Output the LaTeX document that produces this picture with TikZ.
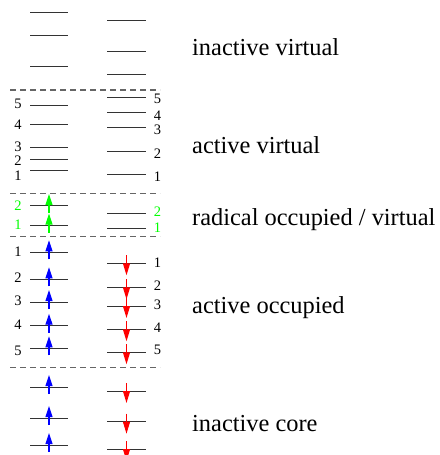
\documentclass[tikz,border=0pt]{standalone}
\usepackage{fontspec}
\setmainfont{Liberation Serif}
\usetikzlibrary{arrows.meta}
\tikzset{
  lvl/.style={black!80, line width=0.95pt},
  sep/.style={black!60, line width=1.3pt, dash pattern=on 6pt off 4pt},
  upar/.style={blue, line width=1.1pt, -{Triangle[length=11pt,width=7pt]}},
  dnar/.style={red, line width=1.1pt, -{Triangle[length=12pt,width=7pt]}},
  grar/.style={green, line width=1.1pt, -{Triangle[length=11pt,width=7pt]}},
  num/.style={font=\fontsize{14.5}{15}\selectfont, inner sep=0pt},
  lab/.style={font=\fontsize{24.4}{26}\selectfont, inner sep=0pt, anchor=base west}
}
\newcommand{\Lv}[1]{\draw[lvl] (30,#1) -- (68,#1);}
\newcommand{\Rv}[1]{\draw[lvl] (107,#1) -- (146,#1);}
\newcommand{\Ua}[2]{\draw[#2] (49,#1+7) -- (49,#1-12);}
\newcommand{\Da}[1]{\draw[dnar] (126.5,#1-8) -- (126.5,#1+12);}
\begin{document}
\begin{tikzpicture}[x=1pt,y=-1pt]
\useasboundingbox (0,0) rectangle (439,455);
\clip (0,0) rectangle (439,455);
% separators
\foreach \y/\n in {90/s1,193.5/s2,236.5/s3,367.5/s4}
  \draw[sep] (10,\y) coordinate (\n a) -- (160,\y) coordinate (\n b);
% inactive virtual
\Lv{12.7}\Lv{35.3}\Lv{66.7}
\Rv{20.3}\Rv{51}\Rv{74}
% active virtual
\Lv{105}\Lv{124.3}\Lv{147.3}\Lv{159}\Lv{170.7}
\Rv{97.3}\Rv{112.7}\Rv{127.7}\Rv{151.7}\Rv{174}
\node[num] (av5) at (18,103.5) {5};
\node[num] (av4) at (18,125) {4};
\node[num] (av3) at (18,147) {3};
\node[num] (av2) at (18,161) {2};
\node[num] (av1) at (18,176) {1};
\node[num] (bv5) at (157.5,99) {5};
\node[num] (bv4) at (157.5,115.5) {4};
\node[num] (bv3) at (157.5,130) {3};
\node[num] (bv2) at (157.5,154) {2};
\node[num] (bv1) at (157.5,176.5) {1};
% radical
\Lv{205.5}\Lv{225}
\Rv{213.3}\Rv{228.3}
\Ua{225.5}{grar}
\Ua{206}{grar}
\node[num, text=green] (ra2) at (18,205.7) {2};
\node[num, text=green] (ra1) at (18,224.5) {1};
\node[num, text=green] (rb2) at (157.5,212) {2};
\node[num, text=green] (rb1) at (157.5,227.3) {1};
% active occupied
\Lv{252.3}\Lv{279.3}\Lv{302}\Lv{325.7}\Lv{348.3}
\Rv{263.3}\Rv{287.3}\Rv{306}\Rv{329.3}\Rv{352.3}
\Ua{252.3}{upar}\Ua{279.3}{upar}\Ua{302}{upar}\Ua{325.7}{upar}\Ua{348.3}{upar}
\Da{263.3}\Da{287.3}\Da{306}\Da{329.3}\Da{352.3}
\node[num] (ao1) at (18,252) {1};
\node[num] (ao2) at (18,278) {2};
\node[num] (ao3) at (18,301) {3};
\node[num] (ao4) at (18,325) {4};
\node[num] (ao5) at (18,350.5) {5};
\node[num] (bo1) at (157.5,263) {1};
\node[num] (bo2) at (157.5,286) {2};
\node[num] (bo3) at (157.5,305) {3};
\node[num] (bo4) at (157.5,328) {4};
\node[num] (bo5) at (157.5,350) {5};
% inactive core
\Lv{387}\Lv{418}\Lv{445}
\Rv{391}\Rv{421.7}\Rv{449}
\Ua{387}{upar}\Ua{418}{upar}\Ua{445}{upar}
\Da{391}\Da{421.7}\Da{449}
% labels
\node[lab] (l1) at (192,55) {inactive virtual};
\node[lab] (l2) at (192,153) {active virtual};
\node[lab] (l3) at (192,225) {radical occupied / virtual};
\node[lab] (l4) at (192,313) {active occupied};
\node[lab] (l5) at (192,431) {inactive core};
\end{tikzpicture}
\end{document}
